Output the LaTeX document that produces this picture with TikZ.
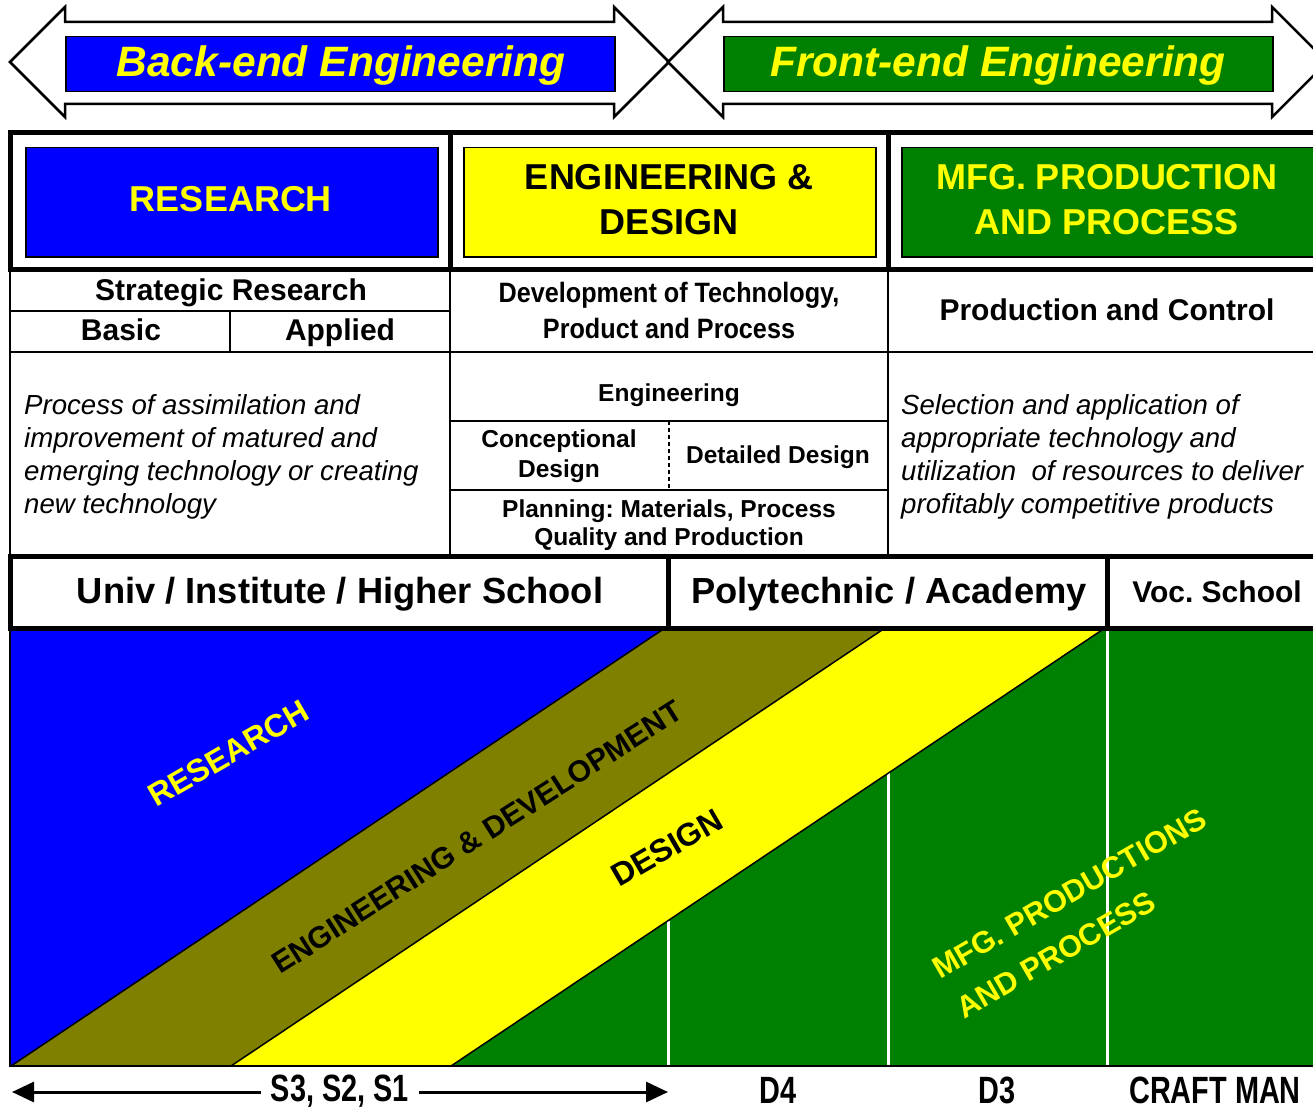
\documentclass[tikz,border=0pt]{standalone}
\usepackage{fontspec}
\setmainfont{Liberation Sans}
\usepackage{graphicx}
\usetikzlibrary{arrows.meta}
\definecolor{cblue}{RGB}{0,0,255}
\definecolor{cyel}{RGB}{255,255,0}
\definecolor{cgreen}{RGB}{0,128,0}
\definecolor{colive}{RGB}{128,128,0}
\newcommand{\fz}[2]{\fontsize{#1}{#2}\selectfont}
\newcommand{\narr}[2]{\scalebox{#1}[1]{#2}}
\frenchspacing
\begin{document}
\begin{tikzpicture}[x=1pt,y=-1pt,
  fat/.style={line width=5pt},
  slim/.style={line width=2pt},
  tx/.style={inner sep=0pt},
  bigarrow/.style={draw=black, line width=2.5pt, fill=white, line join=miter},
  bar/.style={draw=black, line width=1.5pt, inner sep=0pt, anchor=north west},
  hd/.style={tx, anchor=base, font=\bfseries\fz{36}{44}},
  sub/.style={tx, anchor=base, font=\bfseries\fz{30}{34}},
  sm/.style={tx, anchor=base, font=\bfseries\fz{24.5}{28}},
  it/.style={tx, anchor=base west, font=\itshape\fz{27.6}{33}},
  sch/.style={tx, anchor=base, font=\bfseries\fz{36.3}{40}},
  bot/.style={tx, anchor=base, font=\bfseries\fz{38}{40}},
  diag/.style={tx, anchor=base west, font=\bfseries\fz{32}{36}},
  edge/.style={draw=black, line width=1.5pt},
  gap/.style={draw=white, line width=3pt},
]
\useasboundingbox (0,0) rectangle (1313,1107);
\clip (0,0) rectangle (1313,1107);
\fill[white] (0,0) rectangle (1313,1107);

% ---------- top double arrows ----------
\draw[bigarrow] (10,62) -- (65,7) -- (65,22) -- (614,22) -- (614,7) -- (669,62) -- (614,117) -- (614,104) -- (65,104) -- (65,117) -- cycle;
\draw[bigarrow] (668,62) -- (723,7) -- (723,22) -- (1272,22) -- (1272,7) -- (1327,62) -- (1272,117) -- (1272,104) -- (723,104) -- (723,117) -- cycle;
\node[bar, fill=cblue, minimum width=549pt, minimum height=55pt] (bebar) at (65,36) {};
\node[bar, fill=cgreen, minimum width=549pt, minimum height=55pt] (febar) at (723,36) {};
\node[tx, anchor=base, text=cyel, font=\bfseries\itshape\fz{42.5}{48}] (bet) at (341,77) {Back-end Engineering};
\node[tx, anchor=base, text=cyel, font=\bfseries\itshape\fz{42.5}{48}] (fet) at (998,77) {Front-end Engineering};

% ---------- bottom coloured region ----------
\fill[cblue] (10,628) -- (665,628) -- (11,1066) -- (10,1066) -- cycle;
\fill[colive] (665,628) -- (885,628) -- (231,1066) -- (11,1066) -- cycle;
\fill[cyel] (885,628) -- (1105,628) -- (451,1066) -- (231,1066) -- cycle;
\fill[cgreen] (1105,628) -- (1330,628) -- (1330,1066) -- (451,1066) -- cycle;
\draw[gap] (668,921) -- (668,1066) (888,773) -- (888,1066) (1107,628) -- (1107,1066);
\draw[edge] (665,628) -- (11,1066) (885,628) -- (231,1066) (1105,628) -- (451,1066);
\draw[edge] (10,628) -- (10,1066) -- (1330,1066);

\node[diag, text=cyel, rotate=30] (rtx) at (156,808) {RESEARCH};
\node[diag, text=black, rotate=32.5, font=\bfseries\fz{30.2}{36}] (etx) at (280,975) {ENGINEERING \& DEVELOPMENT};
\node[diag, text=black, rotate=30] (dtx) at (619,888) {DESIGN};
\node[diag, text=cyel, rotate=30, font=\bfseries\fz{30.5}{36}] (mtx1) at (940,980) {MFG. PRODUCTIONS};
\node[diag, text=cyel, rotate=30, font=\bfseries\fz{30.5}{36}] (mtx2) at (964,1020) {AND PROCESS};

% ---------- header row ----------
\draw[fat] (10,133) rectangle (1330,269);
\draw[fat] (450,133) -- (450,269) (888,133) -- (888,269);
\node[bar, fill=cblue, minimum width=412pt, minimum height=109pt] (rbox) at (25,147) {};
\node[bar, fill=cyel, minimum width=412pt, minimum height=109pt] (ebox) at (463,147) {};
\node[bar, fill=cgreen, minimum width=413pt, minimum height=109pt] (mbox) at (901,147) {};
\node[hd, text=cyel] (rt) at (231,212) {RESEARCH};
\node[hd, text=black] (et1) at (669,190) {ENGINEERING \&};
\node[hd, text=black] (et2) at (669,234) {DESIGN};
\node[hd, text=cyel] (mt1) at (1107,190) {MFG. PRODUCTION};
\node[hd, text=cyel] (mt2) at (1107,234) {AND PROCESS};

% ---------- middle table ----------
\draw[slim] (10,269) -- (10,556) (450,269) -- (450,556) (888,269) -- (888,556);
\draw[slim] (10,311) -- (450,311) (230,311) -- (230,352);
\draw[slim] (10,352) -- (1330,352);
\draw[slim] (450,421) -- (888,421) (450,490) -- (888,490);
\draw[line width=1.5pt, dash pattern=on 4pt off 3pt] (669,421) -- (669,490);

\node[sub] (sr) at (231,300) {Strategic Research};
\node[sub] (basic) at (121,340) {Basic};
\node[sub] (appl) at (340,340) {Applied};
\node[tx, anchor=base, font=\bfseries\fz{28}{34}] (dev1) at (669,302) {\narr{0.9}{Development of Technology,}};
\node[tx, anchor=base, font=\bfseries\fz{28}{34}] (dev2) at (669,338) {\narr{0.9}{Product and Process}};
\node[tx, anchor=base, font=\bfseries\fz{30}{34}] (pc) at (1107,320) {Production and Control};

\node[it] (l1) at (24,414) {Process of assimilation and};
\node[it] (l2) at (24,447) {improvement of matured and};
\node[it] (l3) at (24,480) {emerging technology or creating};
\node[it] (l4) at (24,513) {new technology};

\node[sm] (eng) at (669,401) {Engineering};
\node[sm] (cd1) at (559,447) {Conceptional};
\node[sm] (cd2) at (559,477) {Design};
\node[sm] (dd) at (778,463) {Detailed Design};
\node[sm] (pl1) at (669,517) {Planning: Materials, Process};
\node[sm] (pl2) at (669,545) {Quality and Production};

\node[it] (r1) at (901,414) {Selection and application of};
\node[it] (r2) at (901,447) {appropriate technology and};
\node[it] (r3) at (901,480) {utilization\ \ of resources to deliver};
\node[it] (r4) at (901,513) {profitably competitive products};

% ---------- school row ----------
\draw[fill=white, fat] (10,556) rectangle (1330,628);
\draw[fat] (668,556) -- (668,628) (1107,556) -- (1107,628);
\node[sch] (univ) at (340,603) {Univ / Institute / Higher School};
\node[sch] (poly) at (889,603) {Polytechnic / Academy};
\node[tx, anchor=base, font=\bfseries\fz{30}{34}] (voc) at (1217,602) {Voc. School};

% ---------- bottom labels ----------
\coordinate (al) at (12,1092);
\coordinate (ar) at (668,1092);
\draw[line width=3pt, {Triangle[length=22pt,width=20pt]}-{Triangle[length=22pt,width=20pt]}] (al) -- (ar);
\node[tx, fill=white, inner xsep=10pt, inner ysep=2pt, font=\bfseries\fz{38}{40}] (sss) at (340,1091) {\narr{0.76}{S3, S2, S1}};
\node[bot] (d4) at (778,1103) {\narr{0.76}{D4}};
\node[bot] (d3) at (997,1103) {\narr{0.76}{D3}};
\node[bot] (cm) at (1215,1103) {\narr{0.76}{CRAFT MAN}};
\end{tikzpicture}
\end{document}
